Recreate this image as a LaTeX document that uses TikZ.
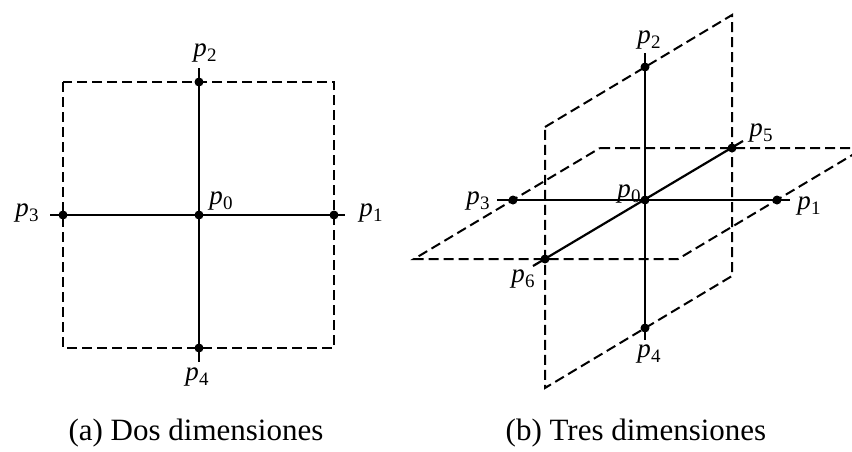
\documentclass[tikz,border=0pt]{standalone}
\usepackage{fontspec}
\setmainfont{Liberation Serif}
\newcommand\plab[1]{\textit{p}\kern0.3pt\raisebox{-5pt}{\fontsize{19}{21}\selectfont #1}}
\begin{document}
\begin{tikzpicture}[x=1pt,y=-1pt,
  dot/.style={circle,fill=black,inner sep=0pt,minimum size=9pt},
  solidline/.style={line width=2.2pt},
  dashline/.style={line width=2pt,dash pattern=on 10pt off 5pt},
  lbl/.style={inner sep=0pt,anchor=base,font=\fontsize{27}{30}\selectfont},
  captext/.style={inner sep=0pt,anchor=base,font=\fontsize{31}{36}\selectfont}]
\useasboundingbox (0,0) rectangle (852,451);
\clip (0,0) rectangle (852,451);
% ---------- (a) two dimensions ----------
\coordinate (Atop) at (199,68);
\coordinate (Abot) at (199,362);
\coordinate (Aleft) at (50,215);
\coordinate (Aright) at (345,215);
\coordinate (SqA) at (63,82);
\coordinate (SqB) at (334,348);
\draw[dashline] (SqA) rectangle (SqB);
\draw[solidline] (Atop) -- (Abot);
\draw[solidline] (Aleft) -- (Aright);
\node[dot] (a0) at (199,215) {};
\node[dot] (a1) at (334,215) {};
\node[dot] (a2) at (199,82) {};
\node[dot] (a3) at (63,215) {};
\node[dot] (a4) at (199,348) {};
\node[lbl] (la2) at (205,56) {\plab{2}};
\node[lbl] (la0) at (221,204) {\plab{0}};
\node[lbl] (la3) at (27,216) {\plab{3}};
\node[lbl] (la1) at (371,216) {\plab{1}};
\node[lbl] (la4) at (197,380) {\plab{4}};
% ---------- (b) three dimensions ----------
\coordinate (V1) at (545,127);
\coordinate (V2) at (732,15);
\coordinate (V3) at (732,276);
\coordinate (V4) at (545,388);
\coordinate (H1) at (600,148);
\coordinate (H2) at (864,148);
\coordinate (H3) at (678,259);
\coordinate (H4) at (414,259);
\draw[dashline] (V1) -- (V2) -- (V3) -- (V4) -- cycle;
\draw[dashline] (H1) -- (H2) -- (H3) -- (H4) -- cycle;
\coordinate (Btop) at (645,53);
\coordinate (Bbot) at (645,340);
\coordinate (Bleft) at (497,200);
\coordinate (Bright) at (790,200);
\coordinate (Bfront) at (533,266);
\coordinate (Bback) at (743,141);
\draw[solidline] (Btop) -- (Bbot);
\draw[solidline] (Bleft) -- (Bright);
\draw[solidline] (Bfront) -- (Bback);
\node[dot] (b0) at (645,200) {};
\node[dot] (b1) at (777,200) {};
\node[dot] (b2) at (645,67) {};
\node[dot] (b3) at (513,200) {};
\node[dot] (b4) at (645,328) {};
\node[dot] (b5) at (732,148) {};
\node[dot] (b6) at (545,259) {};
\node[lbl] (lb2) at (649,43) {\plab{2}};
\node[lbl] (lb5) at (761,136) {\plab{5}};
\node[lbl] (lb0) at (629,197) {\plab{0}};
\node[lbl] (lb3) at (478,204) {\plab{3}};
\node[lbl] (lb1) at (809,209) {\plab{1}};
\node[lbl] (lb6) at (523,282) {\plab{6}};
\node[lbl] (lb4) at (649,357) {\plab{4}};
% ---------- captions ----------
\node[captext] (capa) at (196,440) {(a) Dos dimensiones};
\node[captext] (capb) at (636,440) {(b) Tres dimensiones};
\end{tikzpicture}
\end{document}
